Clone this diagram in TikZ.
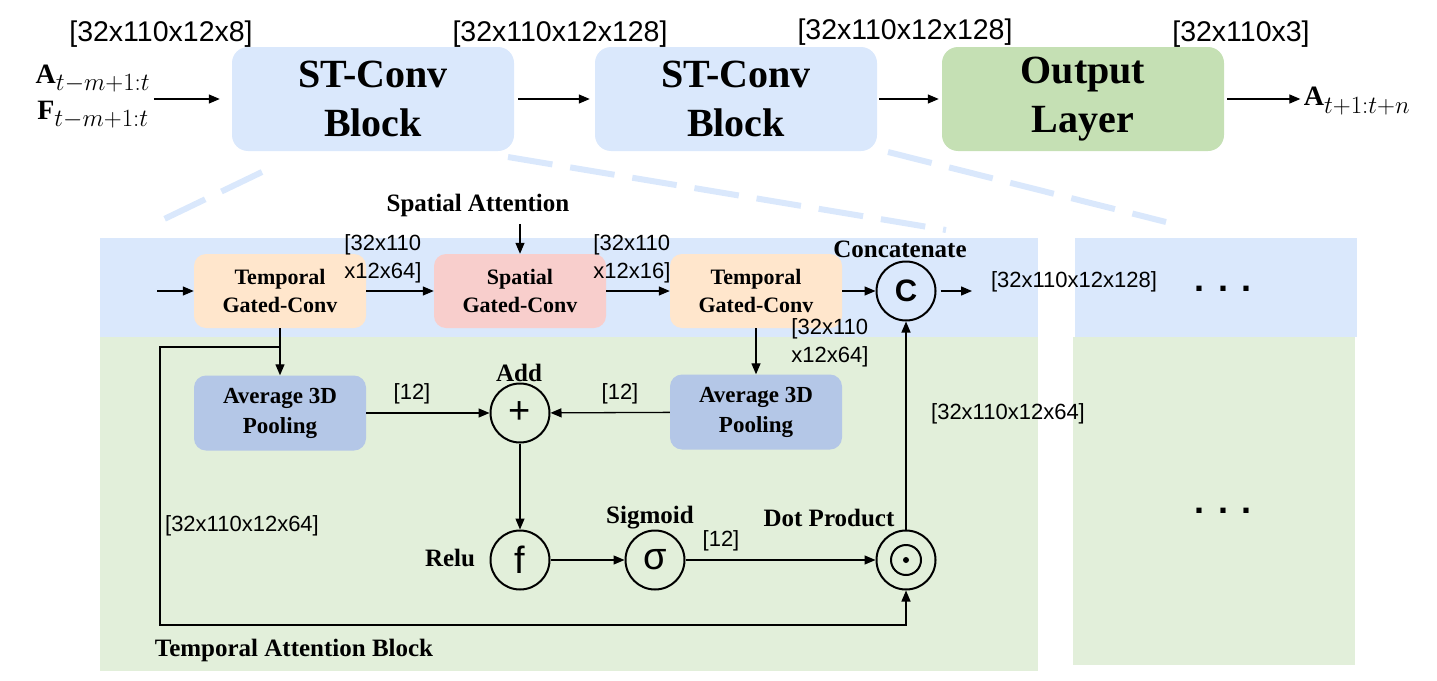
\documentclass[tikz,border=0pt]{standalone}
\usepackage{amsmath}
\usepackage{fontspec}
\setmainfont{Liberation Serif}
\setsansfont{Liberation Sans}
\usepackage{xcolor}
\definecolor{Col1}{RGB}{218,232,252}
\definecolor{Col2}{RGB}{197,224,180}
\definecolor{Col3}{RGB}{226,239,218}
\definecolor{Col4}{RGB}{255,230,204}
\definecolor{Col5}{RGB}{248,206,204}
\definecolor{Col6}{RGB}{180,199,231}
\usepackage{tikz}
\usetikzlibrary{arrows.meta}
\DeclareMathSizes{28}{28}{24}{18}
\tikzstyle{Block}=[rounded corners=16pt,fill=Col1,minimum width=282pt,
minimum height=104pt,align=center,font=\fontsize{40}{49}\selectfont\bfseries]
\tikzstyle{Gate}=[rounded corners=12pt,minimum width=172pt,minimum height=74pt,
align=center,font=\fontsize{22}{28}\selectfont\bfseries]
\tikzstyle{Pool}=[Gate,fill=Col6,minimum height=75pt,
font=\fontsize{23}{30}\selectfont\bfseries]
\tikzstyle{Op}=[circle,draw,line width=2pt,minimum size=59pt,inner sep=0pt,
font=\sffamily\fontsize{38}{40}\selectfont]
\tikzstyle{Tag}=[font=\fontsize{25}{30}\selectfont\bfseries]
\tikzstyle{Dim}=[align=left,font=\sffamily\fontsize{22}{28}\selectfont]
\tikzstyle{DimTop}=[font=\sffamily\fontsize{28.5}{32}\selectfont]
\tikzstyle{Math}=[align=center,font=\fontsize{28}{36}\selectfont]
\tikzstyle{Dots}=[anchor=base,font=\sffamily\bfseries\fontsize{36}{40}\selectfont]
\tikzstyle{Edge}=[draw,line width=1.3pt]
\tikzstyle{Arrow}=[Edge,-{Triangle[length=11pt,width=9pt]}]
\tikzstyle{Zoom}=[draw=Col1,line width=6pt,dash pattern=on 45pt off 18pt]

\begin{document}
\begin{tikzpicture}[x=1pt,y=-1pt]
        \useasboundingbox(0,0)rectangle(1437,680);
        \fill[Col1](100,238)rectangle(1038,337);
        \fill[Col3](100,337)rectangle(1038,671);
        \fill[Col1](1075,238)rectangle(1357,337);
        \fill[Col3](1073,337)rectangle(1355,665);
        \node[Block](blk1)at(373,99){ST-Conv\\Block};
        \node[Block](blk2)at(736,99){ST-Conv\\Block};
        \node[Block,fill=Col2](outl)at(1083,99){Output\\Layer};
        \node[Math](inp)at(93,97)
            {$\mathbf{A}_{t-m+1:t}$\\$\mathbf{F}_{t-m+1:t}$};
        \node[Math](outp)at(1357,101){$\mathbf{A}_{t+1:t+n}$};
        \node[DimTop](d0)at(161,34){[32x110x12x8]};
        \node[DimTop](d1)at(560,34){[32x110x12x128]};
        \node[DimTop](d2)at(905,32){[32x110x12x128]};
        \node[DimTop](d3)at(1241,34){[32x110x3]};
        \draw[Arrow,shorten >=12pt](inp.east|-blk1.west)--(blk1.west);
        \draw[Arrow,shorten <=4pt,shorten >=5pt](blk1)--(blk2);
        \draw[Arrow,shorten <=2pt,shorten >=3pt](blk2)--(outl);
        \draw[Arrow,shorten <=3pt](outl.east)--(outp.west|-outl.east);
        \coordinate(z1a)at(262,172);
        \coordinate(z1b)at(158,222);
        \coordinate(z2a)at(508,157);
        \coordinate(z2b)at(946,230);
        \coordinate(z3a)at(888,152);
        \coordinate(z3b)at(1166,222);
        \draw[Zoom](z1a)--(z1b);
        \draw[Zoom](z2a)--(z2b);
        \draw[Zoom](z3a)--(z3b);
        \node[Gate,fill=Col4](tg1)at(280,291){Temporal\\Gated-Conv};
        \node[Gate,fill=Col5](sg)at(520,291){Spatial\\Gated-Conv};
        \node[Gate,fill=Col4](tg2)at(756,291){Temporal\\Gated-Conv};
        \node[Op](cat)at(906,291){\bfseries\fontsize{31}{34}\selectfont C};
        \node[Pool](ap1)at(280,413){Average 3D\\Pooling};
        \node[Pool](ap2)at(756,412){Average 3D\\Pooling};
        \node[Op](add)at(520,413){+};
        \node[Op](relu)at(520,560){f};
        \node[Op](sig)at(655,560){σ};
        \node[Op](dot)at(906,560){};
        \draw[line width=2pt](dot.center)circle[radius=15pt];
        \fill(dot.center)circle[radius=3pt];
        \node[Tag](tsa)at(478,205){Spatial Attention};
        \node[Tag](tcat)at(900,249){Concatenate};
        \node[Tag](tadd)at(519,373){Add};
        \node[Tag](trelu)at(450,558){Relu};
        \node[Tag](tsig)at(650,518){Sigmoid};
        \node[Tag](tdot)at(829,518){Dot Product};
        \node[Tag](ttab)at(294,650){Temporal Attention Block};
        \node[Dim](m1)at(383,259){[32x110\\x12x64]};
        \node[Dim](m2)at(632,259){[32x110\\x12x16]};
        \node[Dim](m3)at(1074,282){[32x110x12x128]};
        \node[Dim](m4)at(830,343){[32x110\\x12x64]};
        \node[Dim](m5)at(1008,414){[32x110x12x64]};
        \node[Dim](m6)at(242,526){[32x110x12x64]};
        \node[Dim](p1)at(412,394){[12]};
        \node[Dim](p2)at(620,394){[12]};
        \node[Dim](p3)at(721,541){[12]};
        \node[Dots](dt1)at(1223,291){. . .};
        \node[Dots](dt2)at(1223,513){. . .};
        \coordinate(in)at(157,291);
        \coordinate(catout)at(972,291);
        \coordinate(s1)at(280,347);
        \coordinate(s2)at(160,347);
        \coordinate(s3)at(160,625);
        \draw[Arrow](in)--(tg1);
        \draw[Arrow](tg1)--(sg);
        \draw[Arrow]([yshift=-4pt]tsa.south-|sg.north)--(sg.north);
        \draw[Arrow](sg)--(tg2);
        \draw[Arrow](tg2)--(cat);
        \draw[Arrow,shorten <=4pt](cat)--(catout);
        \draw[Arrow](tg1)--(ap1);
        \draw[Arrow](tg2)--(ap2);
        \draw[Arrow](ap1)--(add);
        \draw[Arrow](ap2)--(add);
        \draw[Arrow](add)--(relu);
        \draw[Arrow](relu)--(sig);
        \draw[Arrow](sig)--(dot);
        \draw[Arrow](dot)--(cat);
        \draw[Arrow](s1)--(s2)--(s3)-|(dot.south);
    \end{tikzpicture}
\end{document}
